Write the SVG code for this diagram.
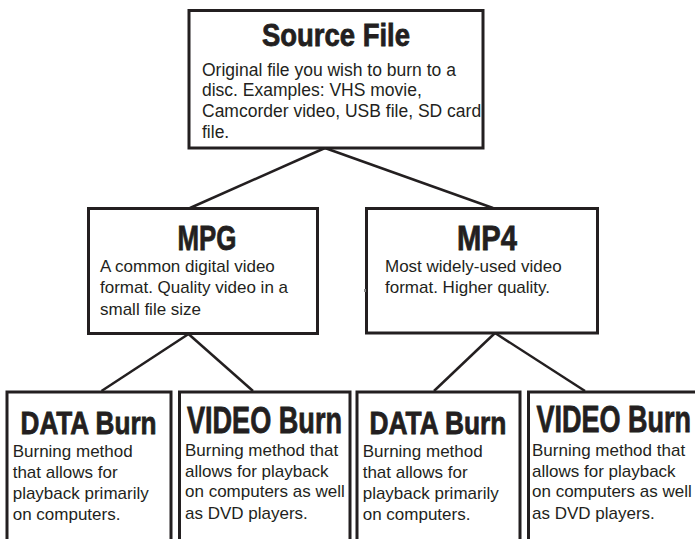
<svg xmlns="http://www.w3.org/2000/svg" width="695" height="539" viewBox="0 0 695 539">
  <style>
    .box { fill: #ffffff; stroke: #231f20; stroke-width: 3; }
    .conn { stroke: #231f20; stroke-width: 2.5; fill: none; }
    .title { font-family: "Liberation Sans", Arial, sans-serif; font-weight: bold; fill: #231f20; stroke: #231f20; stroke-width: 0.8; }
    .body { font-family: "Liberation Sans", Arial, sans-serif; font-size: 17px; fill: #231f20; }
  </style>
  <rect width="695" height="539" fill="#ffffff"/>
  <g id="connectors">
    <line class="conn" x1="325" y1="148" x2="190" y2="208"/>
    <line class="conn" x1="325" y1="148" x2="493" y2="208"/>
    <line class="conn" x1="188.5" y1="334" x2="101.5" y2="391"/>
    <line class="conn" x1="188.5" y1="334" x2="253" y2="391"/>
    <line class="conn" x1="495" y1="333" x2="434" y2="391"/>
    <line class="conn" x1="495" y1="333" x2="585" y2="391"/>
  </g>
  <g id="source">
    <rect class="box" x="189" y="10.5" width="294" height="137.5"/>
    <text class="title" transform="scale(0.78,1)" x="335.9" y="46.5" font-size="32" textLength="189.7" lengthAdjust="spacingAndGlyphs">Source File</text>
    <text class="body" style="font-size:17.5px">
      <tspan x="202" y="75.5">Original file you wish to burn to a</tspan>
      <tspan x="202" y="96.2">disc. Examples: VHS movie,</tspan>
      <tspan x="202" y="116.9">Camcorder video, USB file, SD card</tspan>
      <tspan x="202" y="137.6">file.</tspan>
    </text>
  </g>
  <g id="mpg">
    <rect class="box" x="88.5" y="208.5" width="229" height="125"/>
    <text class="title" transform="scale(0.78,1)" x="227.6" y="250" font-size="36" textLength="75.6" lengthAdjust="spacingAndGlyphs">MPG</text>
    <text class="body">
      <tspan x="100" y="271.7">A common digital video</tspan>
      <tspan x="100" y="293.3">format. Quality video in a</tspan>
      <tspan x="100" y="315">small file size</tspan>
    </text>
  </g>
  <g id="mp4">
    <rect class="box" x="366.5" y="208.5" width="231" height="124.5"/>
    <text class="title" transform="scale(0.78,1)" x="585.9" y="250" font-size="36" textLength="76.9" lengthAdjust="spacingAndGlyphs">MP4</text>
    <text class="body">
      <tspan x="385" y="271.7">Most widely-used video</tspan>
      <tspan x="385" y="293.3">format. Higher quality.</tspan>
    </text>
    <rect x="364" y="289" width="2" height="3" fill="#888888"/>
  </g>
  <g id="data-burn-1">
    <rect class="box" x="7" y="392" width="164" height="160"/>
    <text class="title" transform="scale(0.78,1)" x="26.3" y="434.5" font-size="32" textLength="174.4" lengthAdjust="spacingAndGlyphs">DATA Burn</text>
    <text class="body">
      <tspan x="12.7" y="457">Burning method</tspan>
      <tspan x="12.7" y="477.8">that allows for</tspan>
      <tspan x="12.7" y="498.8">playback primarily</tspan>
      <tspan x="12.7" y="520.2">on computers.</tspan>
    </text>
  </g>
  <g id="video-burn-1">
    <rect class="box" x="179.5" y="392" width="170.5" height="160"/>
    <text class="title" transform="scale(0.75,1)" x="249.3" y="433" font-size="36" textLength="206.7" lengthAdjust="spacingAndGlyphs">VIDEO Burn</text>
    <text class="body">
      <tspan x="185" y="456">Burning method that</tspan>
      <tspan x="185" y="476.5">allows for playback</tspan>
      <tspan x="185" y="497.3">on computers as well</tspan>
      <tspan x="185" y="518.5">as DVD players.</tspan>
    </text>
  </g>
  <g id="data-burn-2">
    <rect class="box" x="357" y="392" width="163" height="160"/>
    <text class="title" transform="scale(0.78,1)" x="473.7" y="434" font-size="32" textLength="175.6" lengthAdjust="spacingAndGlyphs">DATA Burn</text>
    <text class="body">
      <tspan x="362.7" y="457">Burning method</tspan>
      <tspan x="362.7" y="477.8">that allows for</tspan>
      <tspan x="362.7" y="498.8">playback primarily</tspan>
      <tspan x="362.7" y="520.2">on computers.</tspan>
    </text>
  </g>
  <g id="video-burn-2">
    <rect class="box" x="528.5" y="392" width="175" height="160"/>
    <text class="title" transform="scale(0.75,1)" x="715.3" y="432.5" font-size="36" textLength="206" lengthAdjust="spacingAndGlyphs">VIDEO Burn</text>
    <text class="body">
      <tspan x="532" y="456">Burning method that</tspan>
      <tspan x="532" y="476.5">allows for playback</tspan>
      <tspan x="532" y="497.3">on computers as well</tspan>
      <tspan x="532" y="518.5">as DVD players.</tspan>
    </text>
  </g>
</svg>
